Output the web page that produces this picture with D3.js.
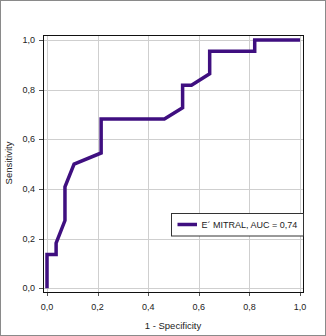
<!DOCTYPE html>
<html><head><meta charset="utf-8">
<script src="https://cdn.jsdelivr.net/npm/d3@7"></script>
<style>body{margin:0;background:#fff}svg{display:block}text{font-family:"Liberation Sans",Arial,sans-serif;fill:#222}</style>
</head><body>
<script>
const fpr = [0, 0, 0.036, 0.036, 0.071, 0.071, 0.107, 0.214, 0.214, 0.464, 0.536, 0.536, 0.571, 0.643, 0.643, 0.821, 0.821, 1.0];
const tpr = [0, 0.136, 0.136, 0.182, 0.273, 0.409, 0.5, 0.545, 0.682, 0.682, 0.727, 0.818, 0.818, 0.864, 0.955, 0.955, 1.0, 1.0];
const xTicks = [0, 0.2, 0.4, 0.6, 0.8, 1.0];
const yTicks = [0, 0.2, 0.4, 0.6, 0.8, 1.0];
const seriesName = "E´ MITRAL, AUC = 0,74";
const xTitle = "1 - Specificity";
const yTitle = "Sensitivity";

const W = 326, H = 336;
const svg = d3.select("body").append("svg").attr("width", W).attr("height", H);
svg.append("rect").attr("x",0.5).attr("y",0.5).attr("width",W-1).attr("height",H-1)
  .attr("fill","#fff").attr("stroke","#8a8a8a").attr("stroke-width",1);

const frame = {l:43, r:304, t:35, b:293};
const x = d3.scaleLinear().domain([0,1]).range([47,300]);
const y = d3.scaleLinear().domain([0,1]).range([288.3,40]);
const fmt = d => d3.format(".1f")(d).replace(".", ",");

// gridlines
const g = svg.append("g");
g.selectAll(".vg").data(xTicks).join("line")
  .attr("x1", d=>Math.round(x(d))+0.5).attr("x2", d=>Math.round(x(d))+0.5)
  .attr("y1", frame.t).attr("y2", frame.b+3)
  .attr("stroke", "#cfcfcf").attr("stroke-width", 1);
g.selectAll(".hg").data(yTicks).join("line")
  .attr("y1", d=>Math.round(y(d))+0.5).attr("y2", d=>Math.round(y(d))+0.5)
  .attr("x1", frame.l-4).attr("x2", frame.r)
  .attr("stroke", "#cfcfcf").attr("stroke-width", 1);
// tick marks
g.selectAll(".yt").data(yTicks).join("line")
  .attr("y1", d=>Math.round(y(d))+0.5).attr("y2", d=>Math.round(y(d))+0.5)
  .attr("x1", frame.l-4).attr("x2", frame.l)
  .attr("stroke", "#555").attr("stroke-width", 1);
g.selectAll(".xt").data(xTicks).join("line")
  .attr("x1", d=>Math.round(x(d))+0.5).attr("x2", d=>Math.round(x(d))+0.5)
  .attr("y1", frame.b).attr("y2", frame.b+3)
  .attr("stroke", "#555").attr("stroke-width", 1);

// frame
svg.append("rect").attr("x",frame.l+0.5).attr("y",frame.t+0.5)
  .attr("width",frame.r-frame.l-1).attr("height",frame.b-frame.t-1)
  .attr("fill","none").attr("stroke","#111").attr("stroke-width",1);

// tick labels
svg.selectAll(".yl").data(yTicks).join("text")
  .attr("x", 35).attr("y", d=>y(d)).attr("dy","0.35em")
  .attr("text-anchor","end").attr("font-size",9).text(fmt);
svg.selectAll(".xl").data(xTicks).join("text")
  .attr("x", d=>x(d)).attr("y", 307).attr("dy","0.35em")
  .attr("text-anchor","middle").attr("font-size",9).text(fmt);

// titles
svg.append("text").attr("x",173).attr("y",326).attr("dy","0.35em")
  .attr("text-anchor","middle").attr("font-size",9.5).text(xTitle);
svg.append("text").attr("transform","translate(9,163) rotate(-90)").attr("dy","0.35em")
  .attr("text-anchor","middle").attr("font-size",9.5).text(yTitle);

// curve
const pts = fpr.map((f,i)=>[f,tpr[i]]);
svg.append("path").datum(pts)
  .attr("d", d3.line().x(d=>x(d[0])).y(d=>y(d[1])))
  .attr("fill","none").attr("stroke","#3f0f80").attr("stroke-width",3.5)
  .attr("stroke-linejoin","miter").attr("stroke-linecap","butt");

// legend
const lg = svg.append("g");
lg.append("rect").attr("x",171.5).attr("y",213.5).attr("width",132).attr("height",22.5)
  .attr("fill","#fff").attr("stroke","#333").attr("stroke-width",1);
lg.append("line").attr("x1",177.5).attr("x2",197).attr("y1",224.5).attr("y2",224.5)
  .attr("stroke","#3f0f80").attr("stroke-width",3.5);
lg.append("text").attr("x",201.5).attr("y",224.5).attr("dy","0.35em")
  .attr("font-size",9).text(seriesName);
</script>
</body></html>
